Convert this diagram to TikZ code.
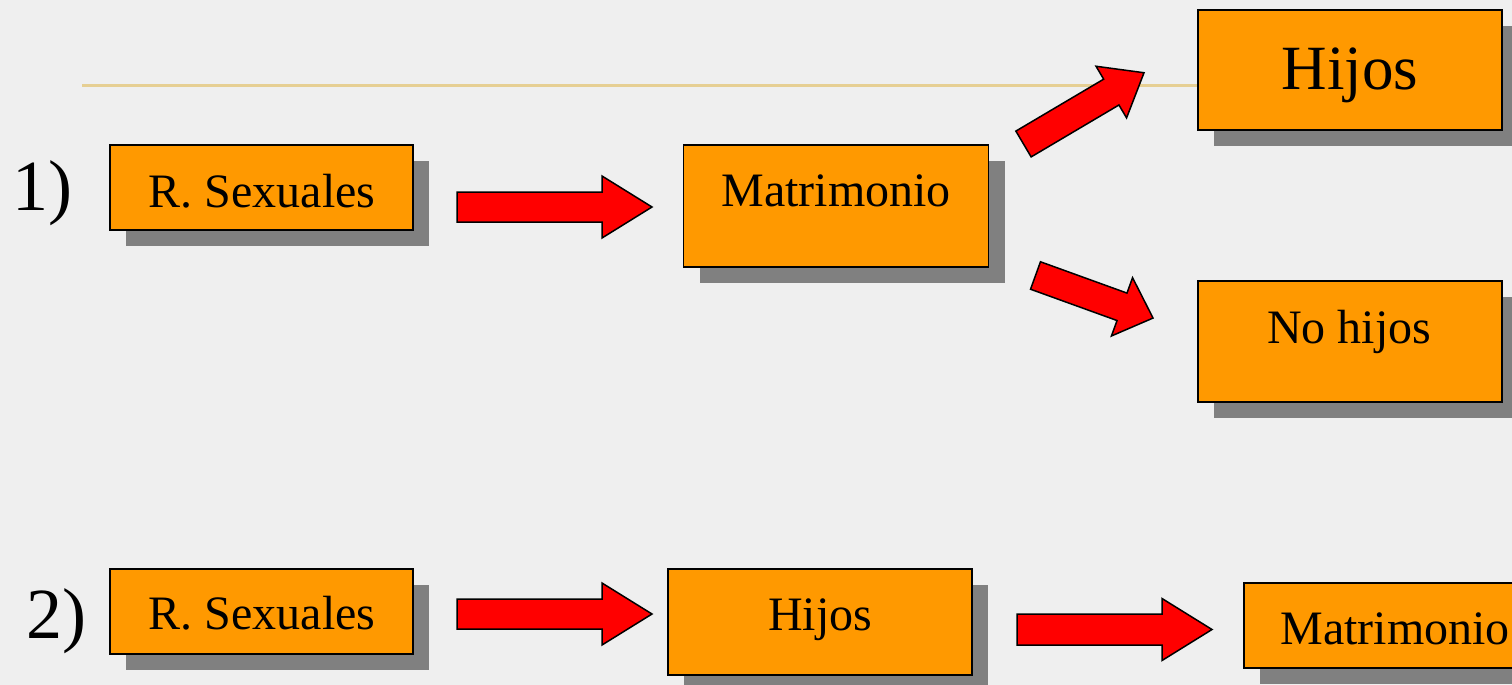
\documentclass[tikz,border=0pt]{standalone}
\usepackage{fontspec}
\setmainfont{Liberation Serif}
\usetikzlibrary{shadows}
\definecolor{bgcol}{HTML}{EFEFEF}
\definecolor{boxorange}{HTML}{FF9900}
\definecolor{shadowgray}{HTML}{808080}
\definecolor{rulecol}{HTML}{E6CF93}
\definecolor{arrowred}{HTML}{FF0000}
\tikzset{
  box/.style={draw=black, line width=1.5pt, fill=boxorange, inner sep=0pt,
    drop shadow={shadow xshift=16pt, shadow yshift=-16pt, fill=shadowgray, opacity=1}},
  lbl/.style={inner sep=0pt, anchor=base, font=\fontsize{48}{56}\selectfont},
  biglbl/.style={inner sep=0pt, anchor=base, font=\fontsize{63}{70}\selectfont},
  numlbl/.style={inner sep=0pt, anchor=base west, font=\fontsize{72}{80}\selectfont},
  arrowshape/.style={draw=black, line width=1.5pt, fill=arrowred, line join=miter},
}
% #1,#2 tail centre; #3 angle; #4 length; #5 head length; #6 shaft half width; #7 head half width
\newcommand\redblockarrow[7]{%
  \filldraw[arrowshape, shift={(#1,#2)}, rotate=#3]
    (0,-#6) -- ({#4-#5},-#6) -- ({#4-#5},-#7) -- (#4,0) -- ({#4-#5},#7) -- ({#4-#5},#6) -- (0,#6) -- cycle;}
\begin{document}
\begin{tikzpicture}[x=1pt, y=-1pt]
  \fill[bgcol] (0,0) rectangle (1512,685);
  \useasboundingbox (0,0) rectangle (1512,685);
  % title rule
  \coordinate (ruleA) at (82,85);
  \coordinate (ruleB) at (1198,85);
  \draw[rulecol, line width=3pt] (ruleA) -- (ruleB);
  % row 1
  \node[numlbl] (n1) at (12,210) {1)};
  \node[box, minimum width=303pt, minimum height=85pt] (rs1) at (261.5,187.5) {};
  \node[lbl] (rs1t) at (262,207) {R. Sexuales};
  \node[box, minimum width=305pt, minimum height=122pt] (m1) at (836,206) {};
  \node[lbl] (m1t) at (836,206) {Matrimonio};
  \node[box, minimum width=304pt, minimum height=120pt] (h1) at (1350,70) {};
  \node[biglbl] (h1t) at (1350,89) {Hijos};
  \node[box, minimum width=304pt, minimum height=121pt] (nh) at (1350,341.5) {};
  \node[lbl] (nht) at (1349,343) {No hijos};
  \redblockarrow{457}{207}{0}{195}{50}{15}{31}
  \redblockarrow{1023.5}{144}{30.6}{140}{38}{15}{30}
  \redblockarrow{1035.5}{275.5}{-19.9}{125}{33}{14.6}{31}
  % row 2
  \node[numlbl] (n2) at (26,638) {2)};
  \node[box, minimum width=303pt, minimum height=85pt] (rs2) at (261.5,611.5) {};
  \node[lbl] (rs2t) at (262,629) {R. Sexuales};
  \node[box, minimum width=304pt, minimum height=106pt] (h2) at (820,622) {};
  \node[lbl] (h2t) at (820,630) {Hijos};
  \node[box, minimum width=304pt, minimum height=85pt] (m2) at (1396,625.5) {};
  \node[lbl] (m2t) at (1395,644) {Matrimonio};
  \redblockarrow{457}{614}{0}{195}{50}{15}{31}
  \redblockarrow{1017}{629.5}{0}{195}{50}{15.5}{31}
\end{tikzpicture}
\end{document}
